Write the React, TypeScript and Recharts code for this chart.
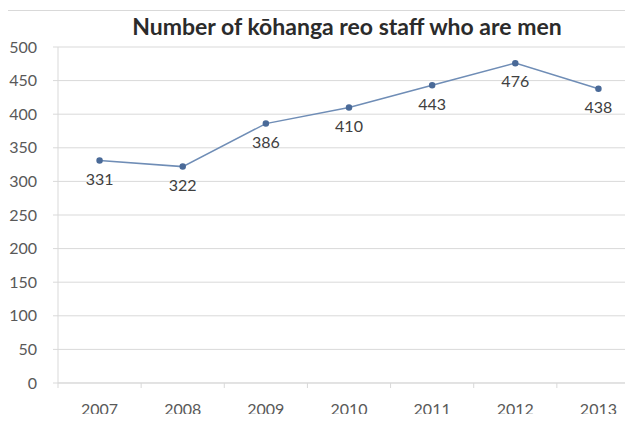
import { LineChart, Line, XAxis, YAxis, CartesianGrid, LabelList } from 'recharts'

const years = ['2007', '2008', '2009', '2010', '2011', '2012', '2013']
const menStaff = [331, 322, 386, 410, 443, 476, 438]
const yTicks = [0, 50, 100, 150, 200, 250, 300, 350, 400, 450, 500]

const data = years.map((year, i) => ({ year, men: menStaff[i] }))

const CHART_W = 660
const CHART_H = 430
const MARGIN = { top: 47, right: 20, left: 8, bottom: 17 }
const Y_AXIS_W = 50
const BAND = (CHART_W - MARGIN.left - MARGIN.right - Y_AXIS_W) / years.length

const FONT = 'Lato, "Open Sans", sans-serif'
const GREY = '#d9d9d9'

function YearTick(props: any) {
  const { x, y, payload, index } = props
  const left = x - BAND / 2
  return (
    <g>
      <line x1={left} y1={y} x2={left} y2={y + 5} stroke={GREY} />
      {index === years.length - 1 && (
        <line x1={x + BAND / 2} y1={y} x2={x + BAND / 2} y2={y + 5} stroke={GREY} />
      )}
      <text x={x} y={y + 32} textAnchor="middle" fill="#595959" fontSize={16} fontFamily={FONT}>
        {payload.value}
      </text>
    </g>
  )
}

export default function App() {
  return (
    <div
      style={{
        margin: -8,
        width: 633,
        height: 422,
        overflow: 'hidden',
        position: 'relative',
        background: '#fff',
      }}
    >
      <div
        style={{
          position: 'absolute',
          left: 5,
          top: 10,
          width: 700,
          height: 500,
          border: `1px solid ${GREY}`,
        }}
      />
      <div
        style={{
          position: 'absolute',
          left: 0,
          top: 12,
          width: 694,
          textAlign: 'center',
          fontFamily: FONT,
          fontWeight: 700,
          fontSize: 23,
          color: '#2b2b2b',
          lineHeight: '28px',
          whiteSpace: 'nowrap',
        }}
      >
        Number of kōhanga reo staff who are men
      </div>
      <div style={{ position: 'absolute', left: 0, top: 0 }}>
        <LineChart width={CHART_W} height={CHART_H} data={data} margin={MARGIN}>
          <CartesianGrid vertical={false} stroke={GREY} />
          <XAxis
            dataKey="year"
            stroke={GREY}
            tickLine={false}
            tickSize={0}
            tickMargin={0}
            tick={<YearTick />}
            interval={0}
            height={30}
            padding={{ left: BAND / 2, right: BAND / 2 }}
          />
          <YAxis
            domain={[0, 500]}
            ticks={yTicks}
            width={Y_AXIS_W}
            stroke={GREY}
            tickSize={5}
            tickMargin={16}
            tick={{ fill: '#595959', fontSize: 16, fontFamily: FONT }}
          />
          <Line
            type="linear"
            dataKey="men"
            stroke="#6f8db6"
            strokeWidth={1.5}
            dot={{ r: 2.5, fill: '#4a6a98', stroke: '#4a6a98' }}
            isAnimationActive={false}
          >
            <LabelList
              dataKey="men"
              position="bottom"
              offset={13}
              fill="#404040"
              fontSize={16}
              fontFamily={FONT}
            />
          </Line>
        </LineChart>
      </div>
    </div>
  )
}
